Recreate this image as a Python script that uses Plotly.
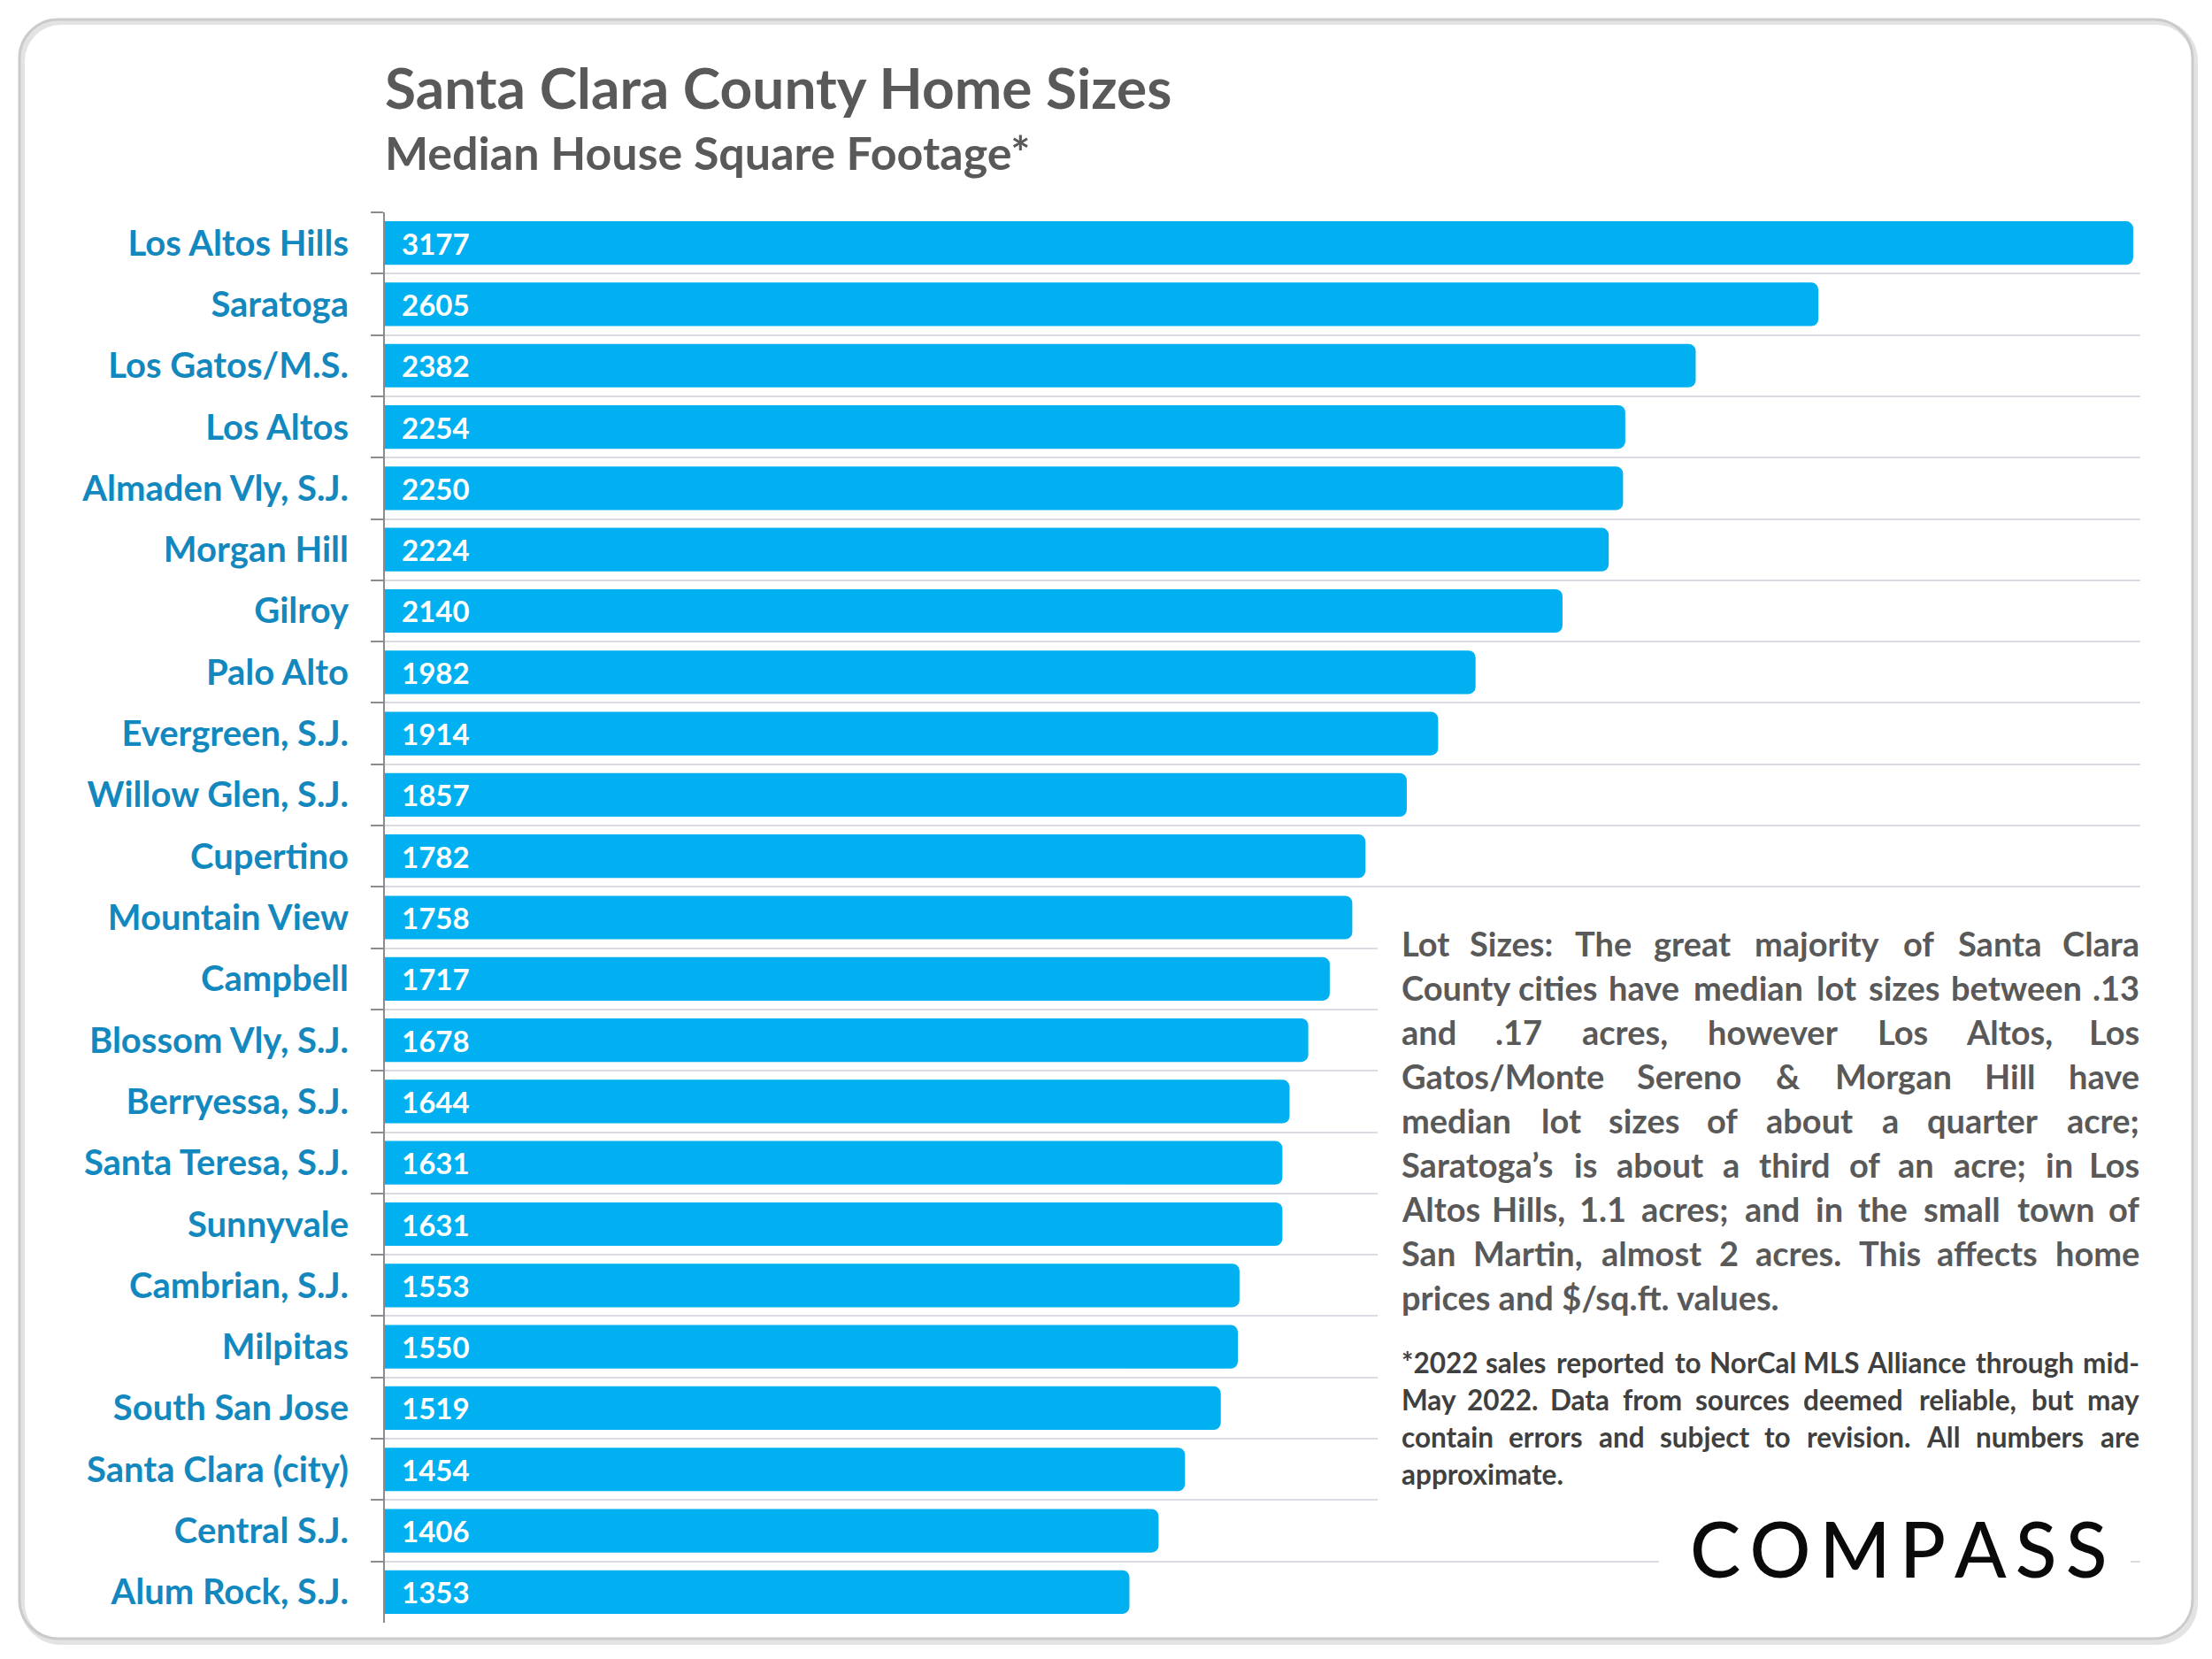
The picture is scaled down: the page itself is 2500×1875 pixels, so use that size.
import plotly.graph_objects as go

# ---------------- data ----------------
categories = ["Los Altos Hills", "Saratoga", "Los Gatos/M.S.", "Los Altos",
              "Almaden Vly, S.J.", "Morgan Hill", "Gilroy", "Palo Alto",
              "Evergreen, S.J.", "Willow Glen, S.J.", "Cupertino", "Mountain View",
              "Campbell", "Blossom Vly, S.J.", "Berryessa, S.J.", "Santa Teresa, S.J.",
              "Sunnyvale", "Cambrian, S.J.", "Milpitas", "South San Jose",
              "Santa Clara (city)", "Central S.J.", "Alum Rock, S.J."]
values = [3177, 2605, 2382, 2254, 2250, 2224, 2140, 1982, 1914, 1857, 1782, 1758,
          1717, 1678, 1644, 1631, 1631, 1553, 1550, 1519, 1454, 1406, 1353]

title_text = "Santa Clara County Home Sizes"
subtitle_text = "Median House Square Footage*"
note_lines = ["Lot Sizes: The great majority of Santa Clara",
              "County cities have median lot sizes between .13",
              "and .17 acres, however Los Altos, Los",
              "Gatos/Monte Sereno & Morgan Hill have",
              "median lot sizes of about a quarter acre;",
              "Saratoga\u2019s is about a third of an acre; in Los",
              "Altos Hills, 1.1 acres; and in the small town of",
              "San Martin, almost 2 acres. This affects home",
              "prices and $/sq.ft. values."]
foot_lines = ["*2022 sales reported to NorCal MLS Alliance through mid-",
              "May 2022. Data from sources deemed reliable, but may",
              "contain errors and subject to revision. All numbers are",
              "approximate."]
logo_text = "COMPASS"

# ---------------- geometry helpers ----------------
FW, FH = 2500, 1875
PL, PR, PT, PB = 435, 2419, 240, 1834
PWID, PHGT = PR - PL, PB - PT


def xp(px):
    return (px - PL) / PWID


def yp(py):
    return (PB - py) / PHGT


FONT = "Lato"
GREY = "#595959"

fig = go.Figure(go.Bar(
    x=values, y=categories, orientation="h",
    marker=dict(color="#00B0F0", cornerradius=8, line=dict(width=0)),
    text=values, texttemplate="\u00a0\u00a0%{x}",
    textposition="inside", insidetextanchor="start", constraintext="none",
    textfont=dict(family=FONT, size=33, color="white", weight=700),
    hoverinfo="skip",
))

fig.update_layout(
    width=FW, height=FH,
    margin=dict(l=PL, r=FW - PR, t=PT, b=FH - PB, pad=0),
    paper_bgcolor="white", plot_bgcolor="white",
    bargap=0.29, showlegend=False,
    xaxis=dict(range=[0, 3190], showgrid=False, zeroline=False, showline=False,
               showticklabels=False, ticks="", fixedrange=True),
    yaxis=dict(type="category", categoryorder="array", categoryarray=categories,
               autorange="reversed", tickson="boundaries", ticks="outside",
               ticklen=14, tickwidth=2, tickcolor="#8c8c8c",
               showline=True, linecolor="#8c8c8c", linewidth=2,
               showgrid=True, gridcolor="#d9dde3", gridwidth=2,
               ticklabelstandoff=31, fixedrange=True,
               tickfont=dict(family=FONT, size=40, color="#1288BE", weight=700)),
)

shapes = []


def rr_path(x0, y0, x1, y1, r):
    k = 0.5523 * r
    pts = [
        ("M", [(x0 + r, y0)]),
        ("L", [(x1 - r, y0)]),
        ("C", [(x1 - r + k, y0), (x1, y0 + r - k), (x1, y0 + r)]),
        ("L", [(x1, y1 - r)]),
        ("C", [(x1, y1 - r + k), (x1 - r + k, y1), (x1 - r, y1)]),
        ("L", [(x0 + r, y1)]),
        ("C", [(x0 + r - k, y1), (x0, y1 - r + k), (x0, y1 - r)]),
        ("L", [(x0, y0 + r)]),
        ("C", [(x0, y0 + r - k), (x0 + r - k, y0), (x0 + r, y0)]),
    ]
    s = ""
    for cmd, ps in pts:
        s += cmd + " " + " ".join(f"{xp(a):.5f},{yp(b):.5f}" for a, b in ps) + " "
    return s + "Z"


# card border with soft shadow
shapes.append(dict(type="path", xref="paper", yref="paper",
                   path=rr_path(25, 25, 2481, 1856, 44),
                   line=dict(color="#e3e3e3", width=6), layer="below"))
shapes.append(dict(type="path", xref="paper", yref="paper",
                   path=rr_path(22, 22, 2478, 1852, 44),
                   line=dict(color="#cbcbcb", width=3), layer="below"))

# white panels behind the notes and the logo (they hide the gridlines)
shapes.append(dict(type="rect", xref="paper", yref="paper",
                   x0=xp(1557), x1=xp(2440), y0=yp(1730), y1=yp(1035),
                   fillcolor="white", line=dict(width=0), layer="above"))
shapes.append(dict(type="rect", xref="paper", yref="paper",
                   x0=xp(1875), x1=xp(2408), y0=yp(1792), y1=yp(1710),
                   fillcolor="white", line=dict(width=0), layer="above"))

annotations = []
annotations.append(dict(xref="paper", yref="paper", x=xp(433), y=yp(99),
                        xanchor="left", yanchor="middle", showarrow=False,
                        text=title_text,
                        font=dict(family=FONT, size=64, color=GREY, weight=700)))
annotations.append(dict(xref="paper", yref="paper", x=xp(433), y=yp(172),
                        xanchor="left", yanchor="middle", showarrow=False,
                        text=subtitle_text,
                        font=dict(family=FONT, size=52, color=GREY, weight=700)))

# approximate glyph widths (em) for justified text layout
CW = {' ': .226, '.': .267, ',': .258, ':': .276, ';': .276, '/': .43, '&': .705,
      '$': .507, '*': .498, '\u2019': .25, '-': .306, '(': .312, ')': .312}
low = dict(a=.494, b=.537, c=.418, d=.537, e=.503, f=.316, g=.474, h=.537, i=.246,
           j=.255, k=.48, l=.246, m=.813, n=.537, o=.538, p=.537, q=.537, r=.355,
           s=.399, t=.347, u=.537, v=.473, w=.745, x=.459, y=.474, z=.397)
up = dict(A=.606, B=.561, C=.529, D=.63, E=.488, F=.459, G=.637, H=.631, I=.267,
          J=.331, K=.547, L=.423, M=.874, N=.659, O=.676, P=.532, Q=.686, R=.563,
          S=.473, T=.495, U=.653, V=.591, W=.906, X=.551, Y=.52, Z=.478)
CW.update(low)
CW.update(up)
for dch in "0123456789":
    CW[dch] = .507
KF = 1.07


def est_w(s, size):
    return sum(CW.get(c, .5) for c in s) * size * KF


def justified(lines, top_center, step, size, color, left=1583, right=2419):
    for i, line in enumerate(lines):
        yc = yp(top_center + i * step)
        f = dict(family=FONT, size=size, color=color, weight=700)
        words = line.split(" ")
        if i == len(lines) - 1 or len(words) == 1:
            annotations.append(dict(xref="paper", yref="paper", x=xp(left), y=yc,
                                    xanchor="left", yanchor="middle", showarrow=False,
                                    text=line, font=f, borderpad=0))
            continue
        ws = [est_w(w, size) for w in words]
        gap = (right - left - sum(ws)) / (len(words) - 1)
        x = left
        for j, w in enumerate(words):
            if j == 0:
                ax, anc = x, "left"
            elif j == len(words) - 1:
                ax, anc = right, "right"
            else:
                ax, anc = x + ws[j] / 2, "center"
            annotations.append(dict(xref="paper", yref="paper", x=xp(ax), y=yc,
                                    xanchor=anc, yanchor="middle", showarrow=False,
                                    text=w, font=f, borderpad=0))
            x += ws[j] + gap


justified(note_lines, 1066, 50, 38, GREY)
justified(foot_lines, 1540, 42, 31.5, "#404040")

sp = "<span style='font-size:40px'> </span>"
annotations.append(dict(xref="paper", yref="paper", x=xp(2145), y=yp(1749),
                        xanchor="center", yanchor="middle", showarrow=False,
                        text=sp.join(list(logo_text)),
                        font=dict(family=FONT, size=86, color="#0a0a0a", weight=500)))

fig.update_layout(shapes=shapes, annotations=annotations)
fig.write_html("out.html", config={"displayModeBar": False},
               post_script="document.body.style.margin='0';document.body.style.padding='0';")
